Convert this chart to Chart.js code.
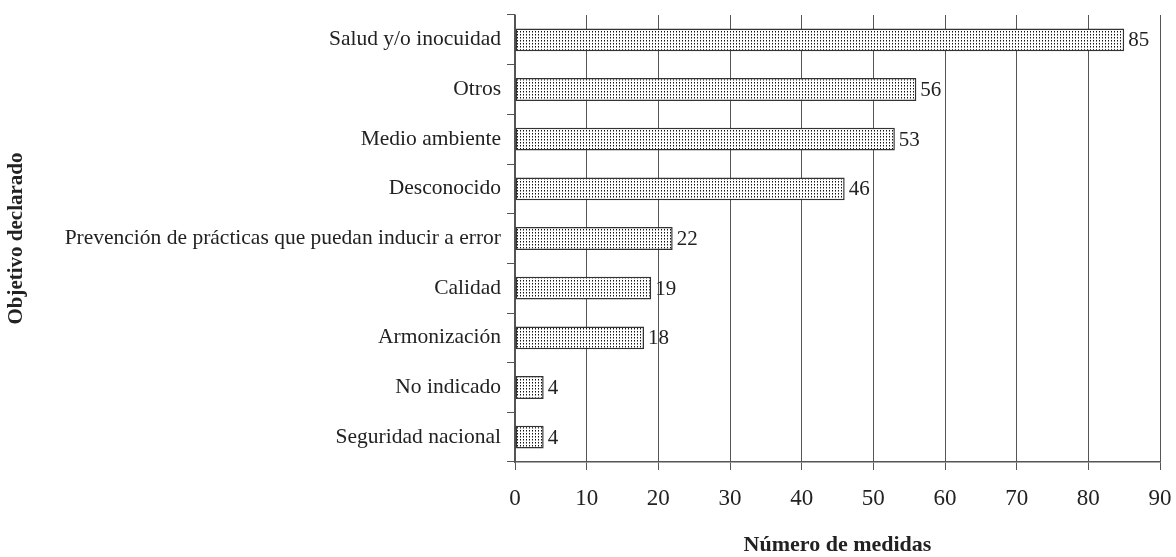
<!DOCTYPE html>
<html>
<head>
<meta charset="utf-8">
<script src="https://cdn.jsdelivr.net/npm/chart.js@4"></script>
<style>
  html, body { margin: 0; padding: 0; background: #fff; }
  #wrap { width: 1176px; height: 557px; }
</style>
</head>
<body>
<div id="wrap"><canvas id="chart" width="1176" height="557"></canvas></div>
<script>
const categories = ['Salud y/o inocuidad', 'Otros', 'Medio ambiente', 'Desconocido',
  'Prevención de prácticas que puedan inducir a error', 'Calidad', 'Armonización',
  'No indicado', 'Seguridad nacional']
const values = [85, 56, 53, 46, 22, 19, 18, 4, 4]
const xTicks = [0, 10, 20, 30, 40, 50, 60, 70, 80, 90]

const serif = "'Liberation Serif', 'Times New Roman', serif"

function dotPattern(){
  const p = document.createElement('canvas')
  p.width = 3
  p.height = 3
  const c = p.getContext('2d')
  c.fillStyle = '#fff'
  c.fillRect(0, 0, 3, 3)
  c.fillStyle = '#111'
  c.fillRect(1, 1, 1, 1)
  c.fillStyle = '#888'
  c.fillRect(1, 2, 1, 1)
  return document.getElementById('chart').getContext('2d').createPattern(p, 'repeat')
}

const valueLabels = {
  id: 'valueLabels',
  afterDatasetsDraw(chart) {
    const { ctx } = chart
    const meta = chart.getDatasetMeta(0)
    ctx.save()
    ctx.font = '21px ' + serif
    ctx.fillStyle = '#222'
    ctx.textAlign = 'left'
    ctx.textBaseline = 'middle'
    meta.data.forEach((bar, i) => {
      ctx.fillText(values[i], bar.x + 4, bar.y + 1)
    })
    ctx.restore()
  }
}

new Chart(document.getElementById('chart'), {
  type: 'bar',
  data: {
    labels: categories,
    datasets: [{
      data: values,
      backgroundColor: dotPattern(),
      borderColor: '#333',
      borderWidth: 1.5,
      borderSkipped: false,
      categoryPercentage: 0.46,
      barPercentage: 1,
    }]
  },
  options: {
    indexAxis: 'y',
    responsive: false,
    animation: false,
    layout: { padding: { top: 15, right: 16, left: 0, bottom: 0 } },
    plugins: {
      legend: { display: false },
      tooltip: { enabled: false },
    },
    scales: {
      x: {
        min: 0,
        max: 90,
        afterBuildTicks(scale) { scale.ticks = xTicks.map(v => ({ value: v })) },
        afterFit(scale) {
          scale.height = 95
          scale.paddingLeft = 0
          scale.paddingRight = 0
        },
        grid: { color: '#555', lineWidth: 1, drawOnChartArea: true, tickLength: 8, tickColor: '#555' },
        border: { display: true, color: '#555', width: 1.5 },
        ticks: { color: '#222', padding: 15, font: { family: serif, size: 23 } },
        title: {
          display: true,
          text: 'Número de medidas',
          color: '#222',
          padding: { top: 0, bottom: 1 },
          font: { family: serif, size: 22, weight: 'bold', lineHeight: 1 }
        }
      },
      y: {
        afterFit(scale) {
          scale.width = 515
          scale.paddingTop = 0
          scale.paddingBottom = 0
        },
        grid: { offset: true, drawOnChartArea: false, tickLength: 8, color: '#555' },
        border: { display: true, color: '#555', width: 1.5 },
        ticks: { color: '#222', padding: 6, font: { family: serif, size: 21.5 } },
        title: {
          display: true,
          text: 'Objetivo declarado',
          color: '#222',
          padding: { top: 6, bottom: 0 },
          font: { family: serif, size: 21, weight: 'bold', lineHeight: 1 }
        }
      }
    }
  },
  plugins: [valueLabels]
})
</script>
</body>
</html>
